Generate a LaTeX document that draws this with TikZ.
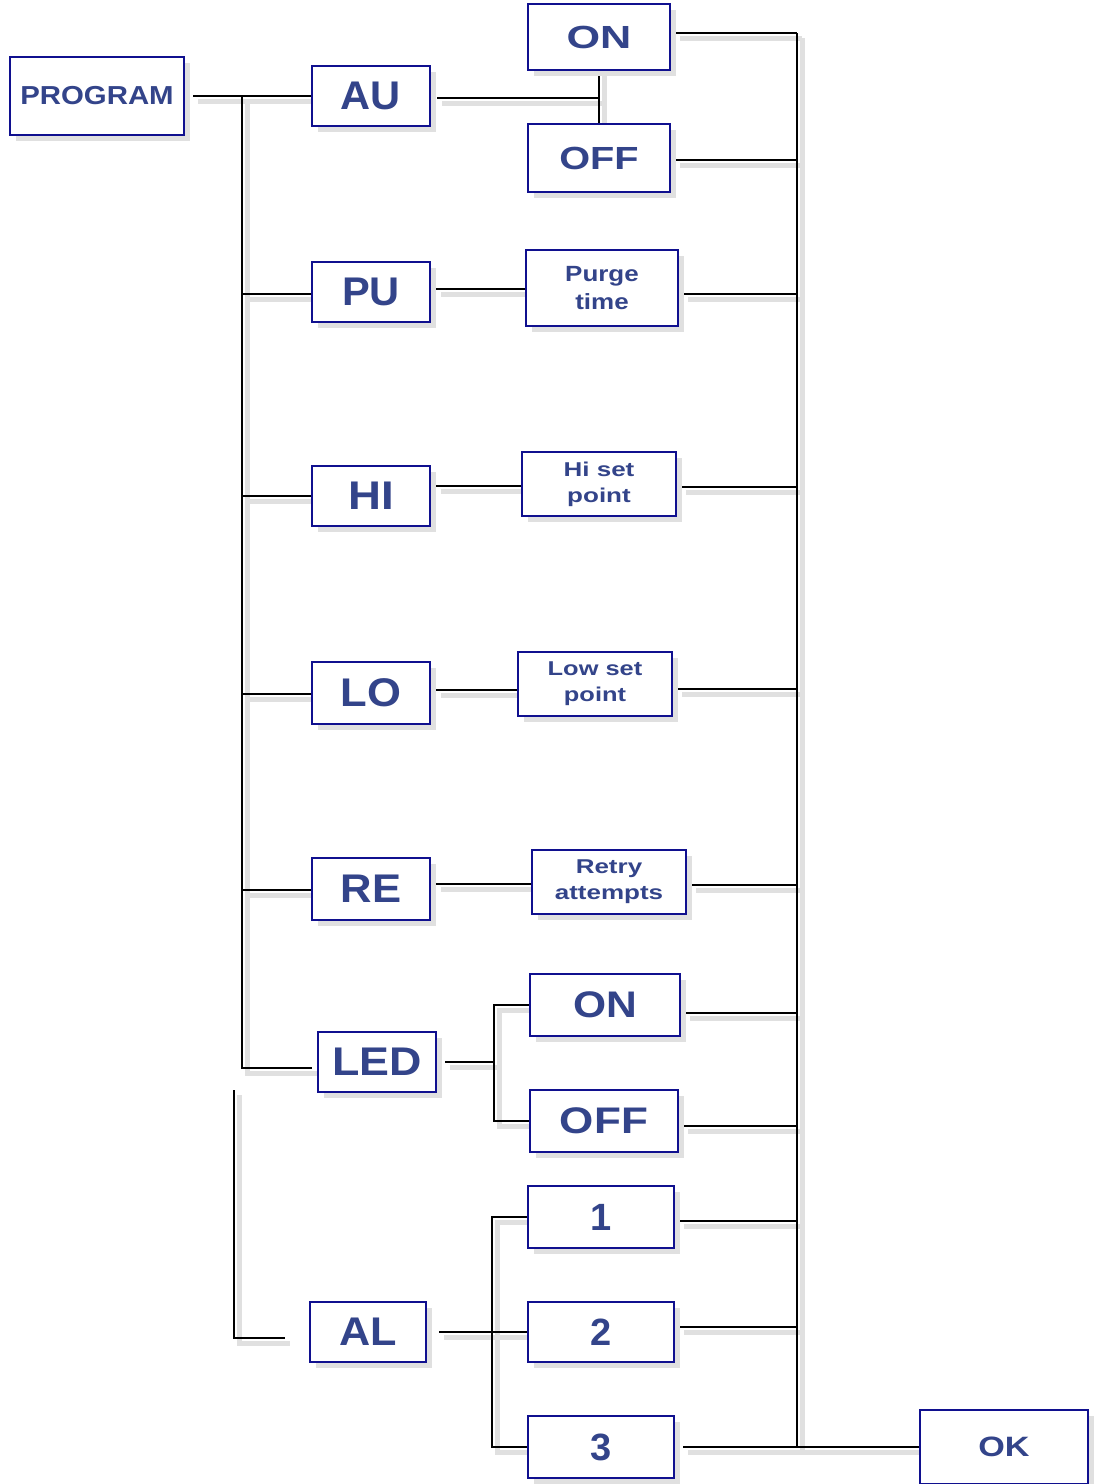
\documentclass[tikz,border=0pt]{standalone}
\usepackage{fontspec}
\setmainfont{Liberation Sans}
\usetikzlibrary{shadows,backgrounds}
\definecolor{boxblue}{HTML}{10108F}
\definecolor{txtblue}{HTML}{33448A}
\tikzset{
  box/.style={draw=boxblue,line width=1.1pt,fill=white,text=txtblue,align=center,inner sep=0pt,
    drop shadow={shadow xshift=3pt,shadow yshift=-3pt,fill=black!12,opacity=1}},
  sz/.style 2 args={minimum width=#1*0.5pt,minimum height=#2*0.5pt},
  fs/.style n args={3}{font=\bfseries\fontsize{#1}{#2}\selectfont\addfontfeatures{FakeStretch=#3}},
  wire/.style={draw=black,line width=1pt},
}
% all connectors, drawn twice (shadow, then line)
\newcommand\wiring{%
  \draw[wire] ([xshift=4pt]prog.east) -- (au.west);
  \draw[wire] (busL) -- (busL |- ledB) -- (ledB);
  \foreach \n/\dy in {pu/2,hi/0,lo/1,re/1}{\draw[wire] ([shift={(0,\dy)}]\n.west -| busL) -- ([shift={(0,\dy)}]\n.west);}
  \draw[wire] (strayA) |- (strayB);
  \draw[wire] ([shift={(6,2)}]au.east) -- ([shift={(0,2)}]au.east -| onA.south);
  \draw[wire] (onA.south) -- (offA.north);
  \foreach \a/\b/\dy in {pu/purge/1,hi/hisp/2,lo/losp/6,re/retry/2}{\draw[wire] ([shift={(5,\dy)}]\b.west -| \a.east) -- ([shift={(0,\dy)}]\b.west);}
  \foreach \n/\dy in {onA/-4,offA/2,purge/6,hisp/3,losp/5,retry/3,onB/8,offB/5,one/4,two/-5}{\draw[wire] ([shift={(4,\dy)}]\n.east) -- ([shift={(0,\dy)}]\n.east -| busR);}
  \draw[wire] (busR) -- (busR |- three.east);
  \draw[wire] ([xshift=4pt]three.east) -- (ok.west);
  \draw[wire] ([xshift=4pt]led.east) -- (ledJ);
  \draw[wire] (onB.west) -| (ledJ) |- (offB.west);
  \draw[wire] ([xshift=6pt]al.east) -- (alJ) -- (two.west);
  \draw[wire] (one.west) -| (alJ) |- (three.west);
}
\begin{document}
\begin{tikzpicture}[x=0.5pt,y=-0.5pt]
\useasboundingbox (0,0) rectangle (1096,1484);
% left column
\node[box,sz={174}{78},fs={13}{16}{1.13}] (prog) at (97,96) {PROGRAM};
\node[box,sz={118}{60},fs={20}{24}{1.04}] (au) at (371,96) {AU};
\node[box,sz={118}{60},fs={20}{24}{1.04}] (pu) at (371,292) {PU};
\node[box,sz={118}{60},fs={20}{24}{1.14}] (hi) at (371,496) {HI};
\node[box,sz={118}{62},fs={20}{24}{1.09}] (lo) at (371,693) {LO};
\node[box,sz={118}{62},fs={20}{24}{1.09}] (re) at (371,889) {RE};
\node[box,sz={118}{60},fs={20}{24}{1.12}] (led) at (377,1062) {LED};
\node[box,sz={116}{60},fs={20}{24}{1.08}] (al) at (368,1332) {AL};
% settings column
\node[box,sz={142}{66},fs={16}{19}{1.35}] (onA) at (599,37) {ON};
\node[box,sz={142}{68},fs={16}{19}{1.24}] (offA) at (599,158) {OFF};
\node[box,sz={152}{76},fs={11}{14}{1.18}] (purge) at (602,288) {Purge\\time};
\node[box,sz={154}{64},fs={10}{13}{1.3}] (hisp) at (599,484) {Hi set\\point};
\node[box,sz={154}{64},fs={10}{13}{1.27}] (losp) at (595,684) {Low set\\point};
\node[box,sz={154}{64},fs={10}{13}{1.3}] (retry) at (609,882) {Retry\\attempts};
\node[box,sz={150}{62},fs={18.5}{22}{1.15}] (onB) at (605,1005) {ON};
\node[box,sz={148}{62},fs={18.5}{22}{1.19}] (offB) at (604,1121) {OFF};
\node[box,sz={146}{62},fs={19}{22}{1.0}] (one) at (601,1217) {1};
\node[box,sz={146}{60},fs={19}{22}{1.0}] (two) at (601,1332) {2};
\node[box,sz={146}{62},fs={19}{22}{1.0}] (three) at (601,1447) {3};
\node[box,sz={168}{74},fs={14}{17}{1.22}] (ok) at (1004,1447) {OK};
% bus points
\coordinate (busL) at (242,96);
\coordinate (ledB) at (312,1068);
\coordinate (busR) at (797,33);
\coordinate (ledJ) at (494,1062);
\coordinate (alJ) at (492,1332);
\coordinate (strayA) at (234,1090);
\coordinate (strayB) at (285,1338);
\begin{scope}[on background layer]
  \begin{scope}[transform canvas={shift={(2.5pt,-2.5pt)}}]
    \tikzset{wire/.style={draw=black!12,line width=2.5pt}}
    \wiring
  \end{scope}
  \wiring
\end{scope}
\end{tikzpicture}
\end{document}
